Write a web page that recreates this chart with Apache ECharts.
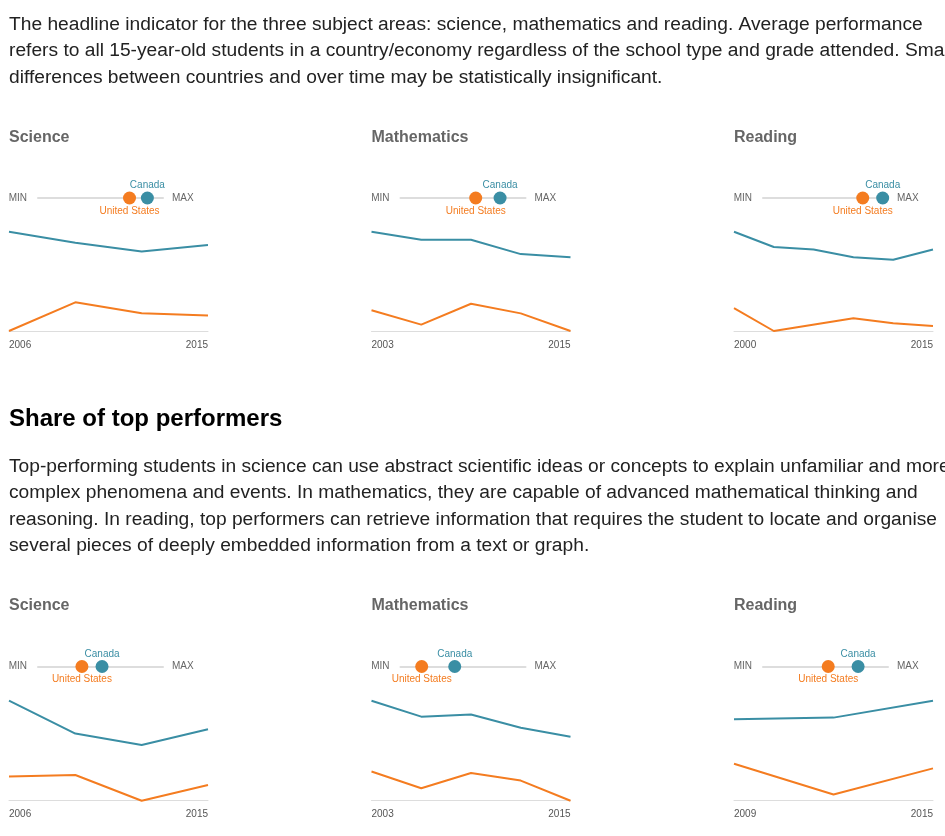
<!DOCTYPE html>
<html>
<head>
<meta charset="utf-8">
<script src="https://cdn.jsdelivr.net/npm/echarts@6/dist/echarts.min.js"></script>
<style>
  html, body { margin: 0; padding: 0; background: #fff; overflow: hidden; }
  #main { width: 945px; height: 836px; }
</style>
</head>
<body>
<div id="main"></div>
<script>
// years per panel
const sciYears = ['2006', '2009', '2012', '2015'];
const mathYears = ['2003', '2006', '2009', '2012', '2015'];
const readYears = ['2000', '2003', '2006', '2009', '2012', '2015'];
const readTopYears = ['2009', '2012', '2015'];

// mean performance (PISA score)
const meanCanada = {
  sci: [534, 529, 525, 528],
  math: [532, 527, 527, 518, 516],
  read: [534, 528, 527, 524, 523, 527]
};
const meanUS = {
  sci: [489, 502, 497, 496],
  math: [483, 474, 487, 481, 470],
  read: [504, 495, null, 500, 498, 497]
};

// share of top performers (%)
const topCanada = {
  sci: [14.4, 12.1, 11.3, 12.4],
  math: [20.3, 18.0, 18.3, 16.4, 15.1],
  read: [12.8, 12.9, 14.0]
};
const topUS = {
  sci: [9.1, 9.2, 7.4, 8.5],
  math: [10.1, 7.7, 9.9, 8.8, 5.9],
  read: [9.9, 7.9, 9.6]
};

// MIN / MAX of all countries, latest year
const meanRange = { sci: [332, 556], math: [328, 564], read: [347, 535] };
const topRange = { sci: [0, 24.2], math: [0, 34.8], read: [0, 18.4] };

const subjects = ['sci', 'math', 'read'];
const subjectNames = ['Science', 'Mathematics', 'Reading'];

const para1 = 'The headline indicator for the three subject areas: science, mathematics and reading. Average performance\n' +
  'refers to all 15-year-old students in a country/economy regardless of the school type and grade attended. Small\n' +
  'differences between countries and over time may be statistically insignificant.';
const heading2 = 'Share of top performers';
const para2 = 'Top-performing students in science can use abstract scientific ideas or concepts to explain unfamiliar and more\n' +
  'complex phenomena and events. In mathematics, they are capable of advanced mathematical thinking and\n' +
  'reasoning. In reading, top performers can retrieve information that requires the student to locate and organise\n' +
  'several pieces of deeply embedded information from a text or graph.';

const TEAL = '#3a8ea4';
const ORANGE = '#f47c20';
const FONT = 'Liberation Sans, Arial, sans-serif';

const colLeft = [9, 371.5, 734];
const rows = [
  { titleY: 130, dotY: 198, lineTop: 231.7, lineH: 99.3,
    years: [sciYears, mathYears, readYears], can: meanCanada, us: meanUS, range: meanRange,
    yMin: [null, null, null] },
  { titleY: 598, dotY: 666.5, lineTop: 700.7, lineH: 100,
    years: [sciYears, mathYears, readTopYears], can: topCanada, us: topUS, range: topRange,
    yMin: [null, null, 7.5] }
];

const titles = [
  { text: para1, left: 9, top: 11, padding: 0,
    textStyle: { fontFamily: FONT, fontSize: 19.2, fontWeight: 'normal', color: '#222', lineHeight: 26.7 } },
  { text: heading2, left: 9, top: 406.2, padding: 0,
    textStyle: { fontFamily: FONT, fontSize: 24, fontWeight: 'bold', color: '#000', lineHeight: 26 } },
  { text: para2, left: 9, top: 453.2, padding: 0,
    textStyle: { fontFamily: FONT, fontSize: 19.2, fontWeight: 'normal', color: '#222', lineHeight: 26.5 } }
];
const grid = [], xAxis = [], yAxis = [], series = [];

function last(arr) {
  for (let i = arr.length - 1; i >= 0; i--) if (arr[i] != null) return arr[i];
}

rows.forEach((row) => {
  subjects.forEach((s, c) => {
    const x0 = colLeft[c];
    titles.push({ text: subjectNames[c], left: x0, top: row.titleY, padding: 0,
      textStyle: { fontFamily: FONT, fontSize: 16, fontWeight: 'bold', color: '#666' } });

    // dot strip: MIN ---- MAX
    const gDot = grid.length;
    grid.push({ left: x0 + 29, width: 125, top: row.dotY - 10, height: 10 });
    xAxis.push({
      gridIndex: gDot, type: 'value', min: row.range[s][0], max: row.range[s][1],
      position: 'bottom',
      axisLine: { show: true, lineStyle: { color: '#ddd', width: 2 } },
      axisTick: { show: false }, axisLabel: { show: false }, splitLine: { show: false },
      name: 'MAX', nameLocation: 'end', nameGap: 9,
      nameTextStyle: { fontFamily: FONT, fontSize: 10, color: '#666', verticalAlign: 'middle' }
    });
    xAxis.push({
      gridIndex: gDot, type: 'value', min: row.range[s][0], max: row.range[s][1],
      position: 'bottom',
      axisLine: { show: false }, axisTick: { show: false }, axisLabel: { show: false }, splitLine: { show: false },
      name: 'MIN', nameLocation: 'start', nameGap: 11,
      nameTextStyle: { fontFamily: FONT, fontSize: 10, color: '#666', verticalAlign: 'middle' }
    });
    yAxis.push({ gridIndex: gDot, type: 'value', min: 0, max: 1, show: false });
    const dotX = xAxis.length - 2, dotY = yAxis.length - 1;
    series.push({
      type: 'scatter', name: 'United States', xAxisIndex: dotX, yAxisIndex: dotY,
      symbolSize: 13, itemStyle: { color: ORANGE, opacity: 1 },
      label: { show: true, position: 'bottom', distance: 1.5, formatter: '{a}',
        fontFamily: FONT, fontSize: 10, color: ORANGE },
      data: [[last(row.us[s]), 0]], z: 5
    });
    series.push({
      type: 'scatter', name: 'Canada', xAxisIndex: dotX, yAxisIndex: dotY,
      symbolSize: 13, itemStyle: { color: TEAL, opacity: 1 },
      label: { show: true, position: 'top', distance: 1, formatter: '{a}',
        fontFamily: FONT, fontSize: 10, color: TEAL },
      data: [[last(row.can[s]), 0]], z: 5
    });

    // trend lines
    const gLine = grid.length;
    const yrs = row.years[c];
    grid.push({ left: x0, width: 199, top: row.lineTop, height: row.lineH });
    xAxis.push({
      gridIndex: gLine, type: 'category', data: yrs, boundaryGap: false,
      axisLine: { show: true, lineStyle: { color: '#ddd', width: 1 } },
      axisTick: { show: false }, splitLine: { show: false },
      axisLabel: {
        interval: (i) => i === 0 || i === yrs.length - 1,
        alignMinLabel: 'left', alignMaxLabel: 'right',
        margin: 9, fontFamily: FONT, fontSize: 10, color: '#555'
      }
    });
    yAxis.push({
      gridIndex: gLine, type: 'value', show: false, scale: true,
      min: row.yMin[c] != null ? row.yMin[c] : 'dataMin', max: 'dataMax'
    });
    const lx = xAxis.length - 1, ly = yAxis.length - 1;
    series.push({
      type: 'line', name: 'Canada', xAxisIndex: lx, yAxisIndex: ly, data: row.can[s],
      showSymbol: false, connectNulls: true, clip: false,
      lineStyle: { color: TEAL, width: 2 }, itemStyle: { color: TEAL }
    });
    series.push({
      type: 'line', name: 'United States', xAxisIndex: lx, yAxisIndex: ly, data: row.us[s],
      showSymbol: false, connectNulls: true, clip: false,
      lineStyle: { color: ORANGE, width: 2 }, itemStyle: { color: ORANGE }
    });
  });
});

const chart = echarts.init(document.getElementById('main'));
chart.setOption({
  animation: false,
  backgroundColor: '#fff',
  title: titles,
  grid: grid,
  xAxis: xAxis,
  yAxis: yAxis,
  series: series
});
</script>
</body>
</html>
